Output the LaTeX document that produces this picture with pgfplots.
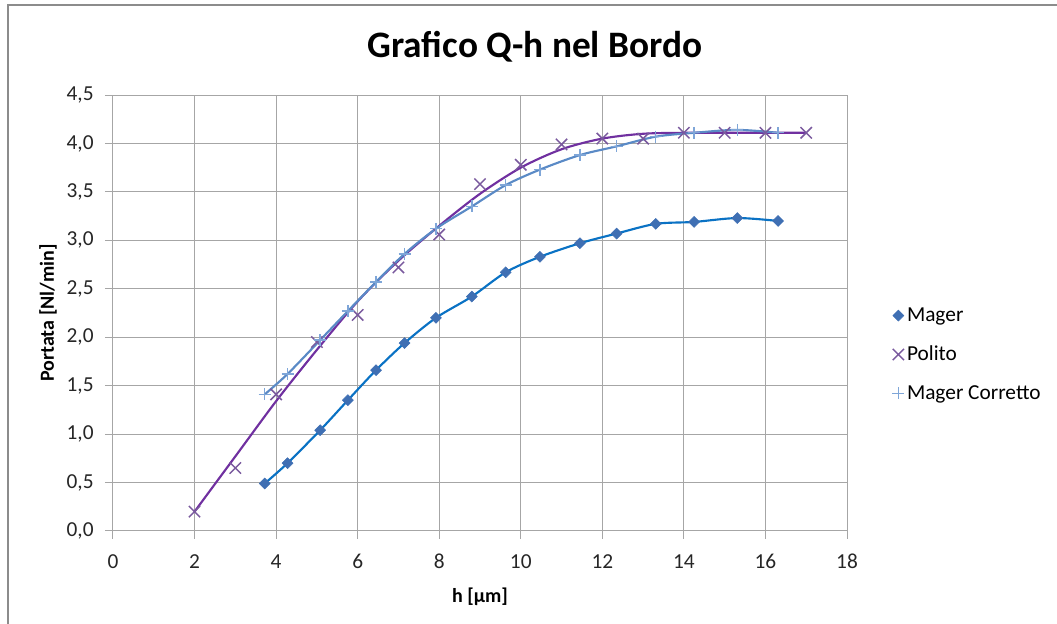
\documentclass[border=0pt]{standalone}
\usepackage{fontspec}
\setmainfont{Carlito}
\usepackage{pgfplots}
\pgfplotsset{compat=1.18}

\definecolor{magerline}{HTML}{0A72C4}
\definecolor{magermark}{HTML}{3F6FB3}
\definecolor{politoline}{HTML}{7030A0}
\definecolor{politomark}{HTML}{7A5A9E}
\definecolor{corrline}{HTML}{5A8AC6}
\definecolor{corrmark}{HTML}{7FA6D8}
\definecolor{gridgray}{HTML}{A6A6A6}
\definecolor{framegray}{HTML}{8C8C8C}

\begin{document}
\begin{tikzpicture}
% page = 1057 x 624 px, 1 px = 0.75pt, origin at the axis corner
\path[use as bounding box] (-84.75pt,-69.75pt) rectangle (708pt,398.25pt);
\draw[framegray, line width=1.5pt] (-78.75pt,-69.75pt) -- (-78.75pt,394.5pt) -- (708pt,394.5pt);
\node[font=\bfseries\fontsize{28}{32}\selectfont, anchor=base] at (316.5pt,355pt) {Grafico Q-h nel Bordo};

\begin{axis}[
    at={(0,0)}, anchor=south west,
    scale only axis, width=550.5pt, height=327pt,
    xmin=0, xmax=18, ymin=0, ymax=4.5,
    xtick={0,2,...,18}, ytick={0,0.5,...,4.5},
    xtick pos=bottom, ytick pos=left,
    tick align=outside, major tick length=6pt,
    grid=major,
    major grid style={color=gridgray, line width=0.75pt},
    axis line style={color=gridgray, line width=0.75pt},
    tick style={color=gridgray, line width=0.75pt},
    /pgf/number format/assume math mode=true,
    yticklabel style={xshift=-5pt, /pgf/number format/fixed,
      /pgf/number format/fixed zerofill, /pgf/number format/precision=1,
      /pgf/number format/use comma},
    xticklabel style={yshift=-8pt},
    ticklabel style={font=\fontsize{16}{18}\selectfont, text=black!85},
    xlabel={h [µm]}, ylabel={Portata [Nl/min]},
    label style={font=\bfseries\fontsize{15}{18}\selectfont},
    xlabel style={at={(axis description cs:0.5,-0.163)}, anchor=base},
    ylabel style={at={(axis description cs:-0.0886,0.5)}, anchor=center},
    legend style={at={(axis description cs:1.056,0.525)}, anchor=north west,
      draw=none, fill=none, font=\fontsize{16}{18}\selectfont, row sep=13pt},
    legend cell align=left,
  ]

% curves
\addplot[magerline, line width=1.6pt, smooth, forget plot] coordinates {
  (3.72,0.49) (4.28,0.70) (5.08,1.04) (5.76,1.35) (6.45,1.66) (7.15,1.94)
  (7.92,2.20) (8.80,2.42) (9.63,2.67) (10.47,2.83) (11.45,2.97) (12.35,3.07)
  (13.31,3.17) (14.25,3.19) (15.31,3.23) (16.31,3.20)};
\addplot[politoline, line width=1.6pt, smooth, forget plot] coordinates {
  (2,0.20) (3,0.77) (4,1.34) (5,1.87) (6,2.37) (7,2.79) (8,3.15) (9,3.48)
  (10,3.75) (11,3.94) (12,4.05) (13,4.10) (14,4.11) (15,4.11) (16,4.11) (17,4.11)};
\addplot[corrline, line width=1.6pt, smooth, forget plot] coordinates {
  (3.72,1.41) (4.28,1.62) (5.08,1.97) (5.76,2.27) (6.45,2.57) (7.15,2.86)
  (7.92,3.12) (8.80,3.35) (9.63,3.57) (10.47,3.73) (11.45,3.88) (12.35,3.97)
  (13.31,4.07) (14.25,4.11) (15.31,4.14) (16.31,4.11)};

% markers
\addplot[only marks, mark=square*, mark size=2.9pt, mark options={rotate=45}, color=magermark] coordinates {
  (3.72,0.49) (4.28,0.70) (5.08,1.04) (5.76,1.35) (6.45,1.66) (7.15,1.94)
  (7.92,2.20) (8.80,2.42) (9.63,2.67) (10.47,2.83) (11.45,2.97) (12.35,3.07)
  (13.31,3.17) (14.25,3.19) (15.31,3.23) (16.31,3.20)};
\addlegendentry{Mager}
\addplot[only marks, mark=x, mark size=6pt, color=politomark, line width=1.1pt] coordinates {
  (2,0.20) (3,0.65) (4,1.41) (5,1.95) (6,2.23) (7,2.72) (8,3.06) (9,3.58)
  (10,3.78) (11,3.99) (12,4.05) (13,4.05) (14,4.11) (15,4.11) (16,4.11) (17,4.11)};
\addlegendentry{Polito}
\addplot[only marks, mark=+, mark size=4.5pt, color=corrmark, line width=1pt] coordinates {
  (3.72,1.41) (4.28,1.62) (5.08,1.97) (5.76,2.27) (6.45,2.57) (7.15,2.86)
  (7.92,3.12) (8.80,3.35) (9.63,3.57) (10.47,3.73) (11.45,3.88) (12.35,3.97)
  (13.31,4.07) (14.25,4.11) (15.31,4.14) (16.31,4.11)};
\addlegendentry{Mager Corretto}
\end{axis}
\end{tikzpicture}
\end{document}
